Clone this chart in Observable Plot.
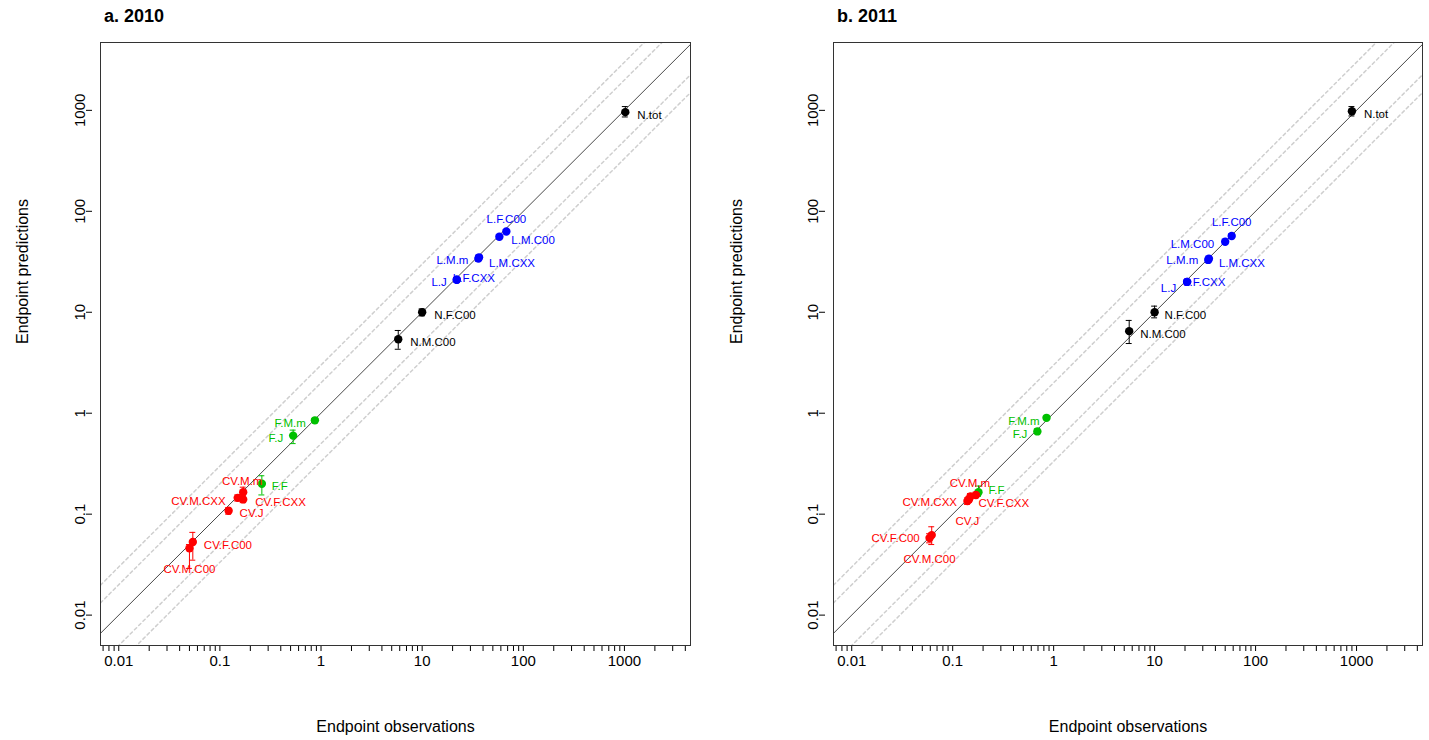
<!DOCTYPE html>
<html>
<head>
<meta charset="utf-8">
<script src="https://cdn.jsdelivr.net/npm/d3@7"></script>
<script src="https://cdn.jsdelivr.net/npm/@observablehq/plot@0.6"></script>
<style>
  body { margin: 0; background: #fff; font-family: "Liberation Sans", Arial, sans-serif; }
  #wrap { display: flex; width: 1429px; }
  .panel { position: relative; width: 714px; height: 740px; }
  .panel h3 { position: absolute; top: 6px; margin: 0; font-size: 18px; font-weight: bold; }
</style>
</head>
<body>
<div id="wrap"><div class="panel" id="p1"><h3 style="left:104px">a. 2010</h3></div><div class="panel" id="p2"><h3 style="left:123px">b. 2011</h3></div></div>
<script>
const labels = ["N.tot","L.F.C00","L.M.C00","L.M.m","L.M.CXX","L.J","L.F.CXX","N.F.C00","N.M.C00",
  "F.M.m","F.J","F.F","CV.M.m","CV.M.CXX","CV.F.CXX","CV.J","CV.F.C00","CV.M.C00"]
const groups = ["N","L","L","L","L","L","L","N","N","F","F","F","CV","CV","CV","CV","CV","CV"]
// 2010
const obs2010  = [1020, 68, 58, 36, 36.5, 22, 22, 10, 5.8, 0.87, 0.53, 0.26, 0.17, 0.15, 0.17, 0.122, 0.054, 0.05]
const pred2010 = [960, 63, 56, 34, 35, 21, 21, 10, 5.4, 0.85, 0.6, 0.2, 0.165, 0.145, 0.14, 0.108, 0.053, 0.046]
const lo2010   = [860, 60, 53, 32, 33, 20, 20, 9.2, 4.3, 0.82, 0.5, 0.155, 0.145, 0.135, 0.13, 0.1, 0.035, 0.029]
const hi2010   = [1090, 66, 59, 36, 37, 22, 22, 10.8, 6.6, 0.88, 0.68, 0.24, 0.185, 0.155, 0.15, 0.116, 0.066, 0.05]
// 2011
const obs2011  = [900, 58, 50, 34, 34.5, 21, 21, 10, 5.6, 0.85, 0.69, 0.18, 0.17, 0.145, 0.15, 0.14, 0.062, 0.059]
const pred2011 = [980, 57, 50, 33, 34, 20, 20, 10, 6.5, 0.9, 0.66, 0.165, 0.155, 0.14, 0.15, 0.135, 0.062, 0.058]
const lo2011   = [880, 54, 47, 31, 32, 19, 19, 8.8, 4.9, 0.87, 0.63, 0.15, 0.145, 0.13, 0.14, 0.125, 0.05, 0.052]
const hi2011   = [1090, 60, 53, 35, 36, 21, 21, 11.5, 8.3, 0.93, 0.7, 0.19, 0.165, 0.15, 0.16, 0.145, 0.075, 0.064]

const colors = {N: "#000000", L: "#0000ff", F: "#00c000", CV: "#ff0000"}
const majorTicks = [0.01, 0.1, 1, 10, 100, 1000]
const xDomain = [0.0066, 4500], yDomain = [0.005, 4700]
const minorTicks = d3.range(-3, 4).flatMap(e => d3.range(2, 10).map(m => m * 10 ** e))
  .filter(v => v >= xDomain[0] && v <= xDomain[1])
const factors = [1/3, 1/2, 2, 3]

// label placement [dx, dy, anchor]
const place2010 = {"N.tot":[12,0,"start"],"L.F.C00":[0,-15,"middle"],"L.M.C00":[12,1,"start"],"L.M.m":[-10,-1,"end"],
  "L.M.CXX":[10,3,"start"],"L.J":[-10,0,"end"],"L.F.CXX":[-4,-4,"start"],"N.F.C00":[12,0,"start"],"N.M.C00":[12,0,"start"],
  "F.M.m":[-9,0,"end"],"F.J":[-10,0,"end"],"F.F":[10,0,"start"],"CV.M.m":[-1,-14,"middle"],"CV.M.CXX":[-12,0,"end"],
  "CV.F.CXX":[12,0,"start"],"CV.J":[11,0,"start"],"CV.F.C00":[11,0,"start"],"CV.M.C00":[0,18,"middle"]}
const place2011 = {"N.tot":[12,0,"start"],"L.F.C00":[0,-17,"middle"],"L.M.C00":[-11,0,"end"],"L.M.m":[-10,-3,"end"],
  "L.M.CXX":[10,2,"start"],"L.J":[-11,3,"end"],"L.F.CXX":[-4,-3,"start"],"N.F.C00":[10,0,"start"],"N.M.C00":[11,0,"start"],
  "F.M.m":[-7,0,"end"],"F.J":[-10,0,"end"],"F.F":[10,-5,"start"],"CV.M.m":[-6,-15,"middle"],"CV.M.CXX":[-12,0,"end"],
  "CV.F.CXX":[8,4,"start"],"CV.J":[0,17,"middle"],"CV.F.C00":[-12,0,"end"],"CV.M.C00":[0,18,"middle"]}

function panel(obs, pred, lo, hi, place, mLeft, mRight) {
  const data = labels.map((l, i) => ({label: l, group: groups[i], x: obs[i], y: pred[i], lo: lo[i], hi: hi[i], anchor: place[l][2]}))
  const refLines = factors.map(f => [{x: xDomain[0], y: xDomain[0] * f, f}, {x: xDomain[1], y: xDomain[1] * f, f}]).flat()
  return Plot.plot({
    width: 714, height: 740,
    marginLeft: mLeft, marginRight: mRight, marginTop: 42, marginBottom: 95,
    style: {fontFamily: "Liberation Sans, Arial, sans-serif", background: "white"},
    x: {type: "log", domain: xDomain},
    y: {type: "log", domain: yDomain},
    marks: [
      Plot.line(refLines, {x: "x", y: "y", z: "f", stroke: "#cfcfcf", strokeDasharray: "3,3", clip: true}),
      Plot.line([{x: xDomain[0], y: xDomain[0]}, {x: xDomain[1], y: xDomain[1]}], {x: "x", y: "y", stroke: "#333", strokeWidth: 0.9, clip: true}),
      Plot.ruleX(data, {x: "x", y1: "lo", y2: "hi", stroke: d => colors[d.group]}),
      Plot.ruleY(data, {y: "lo", x1: d => d.x / 1.07, x2: d => d.x * 1.07, stroke: d => colors[d.group]}),
      Plot.ruleY(data, {y: "hi", x1: d => d.x / 1.07, x2: d => d.x * 1.07, stroke: d => colors[d.group]}),
      Plot.dot(data, {x: "x", y: "y", r: 4.2, fill: d => colors[d.group]}),
      ...["start", "middle", "end"].map(a => Plot.text(data.filter(d => d.anchor === a), {x: "x", y: "y", text: "label",
        textAnchor: a, fontSize: 11.5, fill: d => colors[d.group]})),
      Plot.axisX({ticks: majorTicks, tickFormat: d => String(d), fontSize: 15, tickSize: 6, tickPadding: 4, label: null, anchor: "bottom"}),
      Plot.axisX({ticks: minorTicks, tickSize: 6, text: null, label: null, anchor: "bottom"}),
      Plot.axisY({ticks: majorTicks, tickFormat: d => String(d), fontSize: 15, tickSize: 6, tickPadding: 2, tickRotate: -90, label: null, anchor: "left", textAnchor: "middle", dx: -8}),
      Plot.frame({stroke: "#333"}),
      Plot.text(["Endpoint observations"], {frameAnchor: "bottom", dy: 86, fontSize: 16}),
      Plot.text(["Endpoint predictions"], {frameAnchor: "left", dx: -mLeft + 22, rotate: -90, fontSize: 16})
    ]
  })
}

function withOffsets(chart, place) {
  // shift label texts by their per-label offsets
  d3.select(chart).selectAll("text").each(function() {
    const p = place[this.textContent]
    if (p) { this.setAttribute("dx", p[0]); this.setAttribute("dy", p[1] + 3) }
  })
  return chart
}

document.getElementById("p1").prepend(withOffsets(panel(obs2010, pred2010, lo2010, hi2010, place2010, 100, 24), place2010))
document.getElementById("p2").prepend(withOffsets(panel(obs2011, pred2011, lo2011, hi2011, place2011, 119, 6), place2011))
</script>
</body>
</html>
